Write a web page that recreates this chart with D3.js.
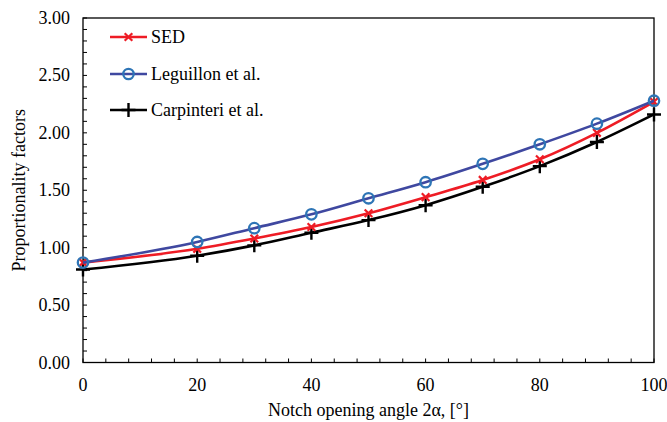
<!DOCTYPE html>
<html>
<head>
<meta charset="utf-8">
<script src="https://cdn.jsdelivr.net/npm/d3@7"></script>
<style>
  body { margin: 0; background: #fff; }
  svg { display: block; font-family: "Liberation Serif", "Times New Roman", serif; }
</style>
</head>
<body>
<svg id="chart" width="667" height="422"></svg>
<script>
const angles = [0, 20, 30, 40, 50, 60, 70, 80, 90, 100];
const sed = [0.87, 0.99, 1.08, 1.18, 1.30, 1.44, 1.59, 1.77, 2.00, 2.27];
const leguillon = [0.87, 1.05, 1.17, 1.29, 1.43, 1.57, 1.73, 1.90, 2.08, 2.28];
const carpinteri = [0.81, 0.93, 1.02, 1.13, 1.24, 1.37, 1.53, 1.71, 1.92, 2.16];
const seriesNames = ["SED", "Leguillon et al.", "Carpinteri et al."];
const xTicks = [0, 20, 40, 60, 80, 100];
const yTicks = [0, 0.5, 1.0, 1.5, 2.0, 2.5, 3.0];

const margin = { left: 83, right: 13, top: 18, bottom: 60 };
const width = 667, height = 422;
const fs = 18;
const svg = d3.select("#chart");

const x = d3.scaleLinear().domain([0, 100]).range([margin.left, width - margin.right]);
const y = d3.scaleLinear().domain([0, 3]).range([height - margin.bottom + 0.5, margin.top]);

const styles = [
  { line: "#ee1c25", marker: "cross", mcolor: "#ee1c25" },
  { line: "#3f48a0", marker: "circle", mcolor: "#2e75b6" },
  { line: "#000000", marker: "plus", mcolor: "#000000" },
];
const data = [sed, leguillon, carpinteri];

// minor ticks (inside)
const g = svg.append("g");
g.selectAll(".ytick-minor")
  .data(d3.range(0, 31).map((d) => d / 10))
  .join("line")
  .attr("x1", x(0)).attr("x2", x(0) + 4)
  .attr("y1", (d) => y(d)).attr("y2", (d) => y(d))
  .attr("stroke", "#000").attr("stroke-width", 1);
g.selectAll(".xtick-minor")
  .data(d3.range(0, 101, 4))
  .join("line")
  .attr("x1", (d) => x(d)).attr("x2", (d) => x(d))
  .attr("y1", y(0)).attr("y2", y(0) - 4)
  .attr("stroke", "#000").attr("stroke-width", 1);

// frame
svg.append("rect")
  .attr("x", x(0)).attr("y", y(3))
  .attr("width", x(100) - x(0)).attr("height", y(0) - y(3))
  .attr("fill", "none").attr("stroke", "#000").attr("stroke-width", 1.3);

// tick labels
svg.append("g")
  .selectAll("text")
  .data(yTicks)
  .join("text")
  .attr("x", x(0) - 13)
  .attr("y", (d) => y(d) + 6)
  .attr("text-anchor", "end")
  .attr("font-size", fs)
  .text((d) => d3.format(".2f")(d));

svg.append("g")
  .selectAll("text")
  .data(xTicks)
  .join("text")
  .attr("x", (d) => x(d))
  .attr("y", y(0) + 28)
  .attr("text-anchor", "middle")
  .attr("font-size", fs)
  .text((d) => d);

// axis titles
svg.append("text")
  .attr("x", (x(0) + x(100)) / 2)
  .attr("y", 416)
  .attr("text-anchor", "middle")
  .attr("font-size", fs)
  .text("Notch opening angle 2\u03b1, [\u00b0]");

svg.append("text")
  .attr("transform", `translate(25,${(y(0) + y(3)) / 2}) rotate(-90)`)
  .attr("text-anchor", "middle")
  .attr("font-size", fs)
  .text("Proportionality factors");

function drawMarker(sel, type, color, cx, cy) {
  if (type === "circle") {
    sel.append("circle").attr("cx", cx).attr("cy", cy).attr("r", 5.2)
      .attr("fill", "none").attr("stroke", color).attr("stroke-width", 2.3);
  } else if (type === "cross") {
    const s = 3.8;
    sel.append("path")
      .attr("d", `M${cx - s},${cy - s}L${cx + s},${cy + s}M${cx - s},${cy + s}L${cx + s},${cy - s}`)
      .attr("stroke", color).attr("stroke-width", 2.2).attr("fill", "none");
  } else {
    const s = 7;
    sel.append("path")
      .attr("d", `M${cx - s},${cy}L${cx + s},${cy}M${cx},${cy - s}L${cx},${cy + s}`)
      .attr("stroke", color).attr("stroke-width", 2.4).attr("fill", "none");
  }
}

const line = d3.line()
  .x((d, i) => x(angles[i]))
  .y((d) => y(d))
  .curve(d3.curveMonotoneX);

// carpinteri first, blue circles on top
[2, 0, 1].forEach((k) => {
  const sg = svg.append("g");
  sg.append("path")
    .datum(data[k])
    .attr("d", line)
    .attr("fill", "none")
    .attr("stroke", styles[k].line)
    .attr("stroke-width", 2.6);
  data[k].forEach((v, i) => drawMarker(sg, styles[k].marker, styles[k].mcolor, x(angles[i]), y(v)));
});

// legend
const legY = [37, 74, 110];
seriesNames.forEach((name, k) => {
  const lg = svg.append("g");
  lg.append("line")
    .attr("x1", 110).attr("x2", 147)
    .attr("y1", legY[k]).attr("y2", legY[k])
    .attr("stroke", styles[k].line).attr("stroke-width", 2.6);
  drawMarker(lg, styles[k].marker, styles[k].mcolor, 128.5, legY[k]);
  lg.append("text")
    .attr("x", 151).attr("y", legY[k] + 6)
    .attr("font-size", fs)
    .text(name);
});
</script>
</body>
</html>
